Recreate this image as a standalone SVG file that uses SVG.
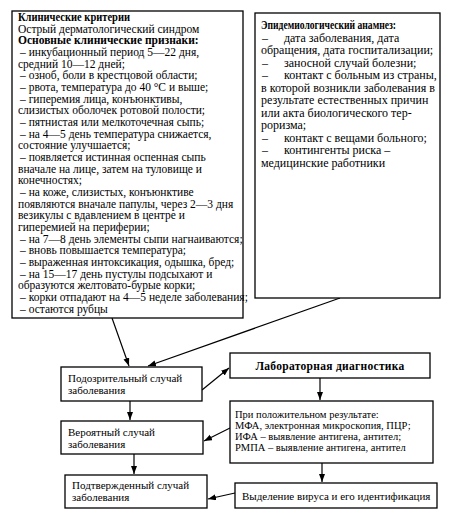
<svg xmlns="http://www.w3.org/2000/svg" width="451" height="523" viewBox="0 0 451 523">
<style>
.box{fill:#fff;stroke:#000;stroke-width:1.3}
.t{font-family:"Liberation Serif","Times New Roman",serif;font-size:11.5px;fill:#000}
.e{font-size:12px}
.s{font-size:11px}
.r{font-size:10.5px}
.b{font-weight:bold}
.c{stroke:#000;stroke-width:1.2;fill:none;marker-end:url(#ah)}
</style>
<defs>
<marker id="ah" markerUnits="userSpaceOnUse" markerWidth="9" markerHeight="7" refX="8" refY="3" orient="auto">
<path d="M0,0 L8,3 L0,6 z" fill="#000"/>
</marker>
</defs>
<rect width="451" height="523" fill="#fff"/>
<g id="connectors">
<line class="c" x1="112" y1="318" x2="129" y2="366"/>
<line class="c" x1="340" y1="298" x2="148" y2="366"/>
<line class="c" x1="202" y1="390" x2="229" y2="368"/>
<line class="c" x1="130" y1="401" x2="130" y2="420"/>
<line class="c" x1="134" y1="454" x2="134" y2="474"/>
<line class="c" x1="320" y1="378" x2="320" y2="400"/>
<line class="c" x1="230" y1="428" x2="204" y2="441"/>
<line class="c" x1="322" y1="463" x2="322" y2="482"/>
<line class="c" x1="235" y1="493" x2="208" y2="499"/>
</g>
<g id="clinical">
<rect class="box" x="12" y="11" width="231" height="307"/>
<text class="t">
<tspan class="b" x="18" y="21" textLength="112" lengthAdjust="spacingAndGlyphs">Клинические критерии</tspan>
<tspan x="18" y="32.7">Острый дерматологический синдром</tspan>
<tspan class="b" x="18" y="44.3">Основные клинические признаки:</tspan>
<tspan x="20" y="56">–  инкубационный период 5—22 дня,</tspan>
<tspan x="18" y="67.7">средний 10—12 дней;</tspan>
<tspan x="20" y="79.3">–  озноб, боли в крестцовой области;</tspan>
<tspan x="20" y="91">–  рвота, температура до 40 °С и выше;</tspan>
<tspan x="20" y="102.7">–  гиперемия лица, конъюнктивы,</tspan>
<tspan x="18" y="114.4">слизистых оболочек ротовой полости;</tspan>
<tspan x="20" y="126">–  пятнистая или мелкоточечная сыпь;</tspan>
<tspan x="20" y="137.7">–  на 4—5 день температура снижается,</tspan>
<tspan x="18" y="149.4">состояние улучшается;</tspan>
<tspan x="20" y="161">–  появляется истинная оспенная сыпь</tspan>
<tspan x="18" y="172.7">вначале на лице, затем на туловище и</tspan>
<tspan x="18" y="184.4">конечностях;</tspan>
<tspan x="20" y="196">–  на коже, слизистых, конъюнктиве</tspan>
<tspan x="18" y="207.7">появляются вначале папулы, через 2—3 дня</tspan>
<tspan x="18" y="219.4">везикулы с вдавлением в центре и</tspan>
<tspan x="18" y="231">гиперемией на периферии;</tspan>
<tspan x="20" y="242.7">–  на 7—8 день элементы сыпи нагнаиваются;</tspan>
<tspan x="20" y="254.4">–  вновь повышается температура;</tspan>
<tspan x="20" y="266">–  выраженная интоксикация, одышка, бред;</tspan>
<tspan x="20" y="277.7">–  на 15—17 день пустулы подсыхают и</tspan>
<tspan x="18" y="289.4">образуются желтовато-бурые корки;</tspan>
<tspan x="20" y="301">–  корки отпадают на 4—5 неделе заболевания;</tspan>
<tspan x="20" y="312.7">–  остаются рубцы</tspan>
</text>
</g>
<g id="epidemiology">
<rect class="box" x="255" y="13" width="185" height="285"/>
<text class="t e">
<tspan class="b" x="261" y="29" textLength="135" lengthAdjust="spacingAndGlyphs">Эпидемиологический анамнез:</tspan>
<tspan x="262" y="41.5">–</tspan><tspan x="284" y="41.5">дата заболевания, дата</tspan>
<tspan x="261" y="54">обращения, дата госпитализации;</tspan>
<tspan x="262" y="66.5">–</tspan><tspan x="284" y="66.5">заносной случай болезни;</tspan>
<tspan x="262" y="79">–</tspan><tspan x="284" y="79">контакт с больным из страны,</tspan>
<tspan x="261" y="91.5">в которой возникли заболевания в</tspan>
<tspan x="261" y="104">результате естественных причин</tspan>
<tspan x="261" y="116.5">или акта биологического тер-</tspan>
<tspan x="261" y="129">роризма;</tspan>
<tspan x="262" y="141.5">–</tspan><tspan x="284" y="141.5">контакт с вещами больного;</tspan>
<tspan x="262" y="154">–</tspan><tspan x="284" y="154">контингенты риска –</tspan>
<tspan x="261" y="166.5">медицинские работники</tspan>
</text>
</g>
<g id="suspected">
<rect class="box" x="61" y="367" width="141" height="34"/>
<text class="t s"><tspan x="68" y="382">Подозрительный случай</tspan><tspan x="68" y="394">заболевания</tspan></text>
</g>
<g id="lab">
<rect class="box" x="230" y="353" width="200" height="25"/>
<text class="t b" x="330" y="370" text-anchor="middle" letter-spacing="0.3">Лабораторная диагностика</text>
</g>
<g id="probable">
<rect class="box" x="61" y="421" width="142" height="33"/>
<text class="t s"><tspan x="68" y="436">Вероятный случай</tspan><tspan x="68" y="447.5">заболевания</tspan></text>
</g>
<g id="result">
<rect class="box" x="230" y="401" width="203" height="62"/>
<text class="t r">
<tspan x="235" y="417.5">При положительном результате:</tspan>
<tspan x="235" y="428.5">МФА, электронная микроскопия, ПЦР;</tspan>
<tspan x="235" y="439.5">ИФА – выявление антигена, антител;</tspan>
<tspan x="235" y="450.5">РМПА – выявление антигена, антител</tspan>
</text>
</g>
<g id="confirmed">
<rect class="box" x="65" y="475" width="142" height="33"/>
<text class="t s"><tspan x="72" y="489">Подтвержденный случай</tspan><tspan x="72" y="501">заболевания</tspan></text>
</g>
<g id="isolation">
<rect class="box" x="235" y="483" width="202" height="25"/>
<text class="t s" x="242" y="500">Выделение вируса и его идентификация</text>
</g>
</svg>
